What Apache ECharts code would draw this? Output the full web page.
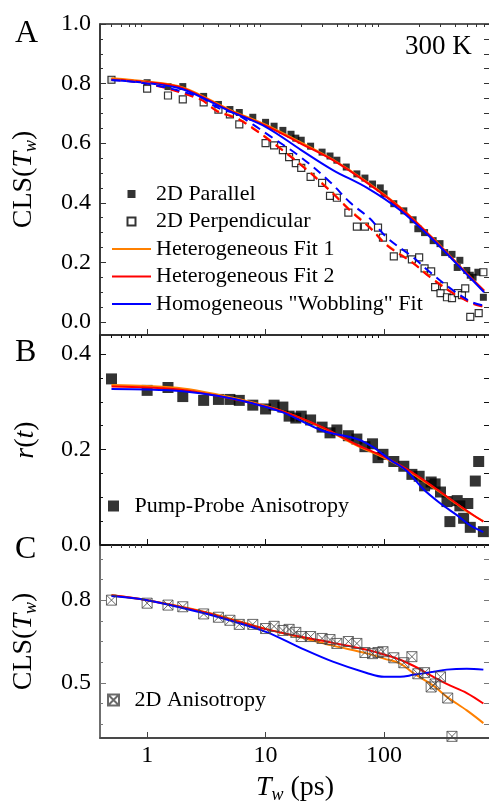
<!DOCTYPE html>
<html>
<head>
<meta charset="utf-8">
<script src="https://cdn.jsdelivr.net/npm/echarts@6/dist/echarts.min.js"></script>
<style>
  html, body { margin: 0; padding: 0; background: #fff; }
  #main { width: 489px; height: 801px; }
</style>
</head>
<body>
<div id="main"></div>
<script>
// ---- data (Tw in ps, value) ----
var parallelA = [[0.5,0.813],[1,0.803],[1.5,0.79],[2,0.79],[3,0.757],[4,0.73],[5,0.713],[6,0.703],[7.8,0.687],[10,0.67],[11.8,0.657],[14,0.643],[16.4,0.63],[18,0.617],[20,0.61],[24,0.59],[30,0.57],[35,0.557],[40,0.543],[48,0.52],[59,0.497],[69,0.483],[80,0.463],[93,0.45],[100,0.43],[121,0.397],[147,0.373],[176,0.343],[193,0.313],[220,0.30],[260,0.273],[297,0.263],[325,0.233],[375,0.227],[415,0.183],[437,0.207],[500,0.173],[535,0.157],[565,0.15],[620,0.167],[690,0.083]];
var perpendicularA = [[0.5,0.813],[1,0.783],[1.5,0.76],[2,0.747],[3,0.737],[4,0.713],[5,0.697],[6,0.663],[10,0.60],[11.8,0.593],[14,0.577],[15.8,0.553],[18,0.533],[20,0.517],[24,0.487],[30,0.467],[35,0.423],[40,0.417],[50,0.367],[59,0.32],[69,0.32],[89,0.317],[98,0.283],[121,0.22],[147,0.23],[172,0.21],[198,0.217],[220,0.18],[250,0.17],[270,0.117],[300,0.097],[320,0.12],[340,0.083],[375,0.08],[420,0.097],[455,0.09],[485,0.113],[535,0.017],[630,0.03],[690,0.167]];
var fitTw = [0.5,1,2,5,10,20,37,72,137,260,500,700];
var het1ParA = [0.818,0.807,0.787,0.712,0.662,0.602,0.545,0.47,0.385,0.28,0.163,0.105];
var het2ParA = [0.815,0.805,0.785,0.709,0.659,0.598,0.543,0.467,0.383,0.279,0.162,0.105];
var homParA = [0.812,0.802,0.781,0.707,0.655,0.577,0.51,0.45,0.375,0.275,0.16,0.10];
var perpTw = [0.5,1,2.8,3.9,5.7,7.8,11,20,35,52,76,106,176,245,380,550,700];
var het1PerpA = [0.815,0.802,0.749,0.709,0.685,0.652,0.609,0.528,0.442,0.375,0.318,0.259,0.199,0.152,0.099,0.065,0.052];
var het2PerpA = [0.813,0.8,0.747,0.707,0.683,0.65,0.607,0.526,0.44,0.373,0.316,0.257,0.197,0.15,0.097,0.063,0.05];
var homPerpA = [0.812,0.8,0.755,0.72,0.697,0.663,0.623,0.552,0.47,0.40,0.347,0.283,0.217,0.167,0.107,0.067,0.055];

var pumpProbeB = [[0.5,0.348],[1,0.324],[1.5,0.33],[2,0.311],[3,0.303],[4,0.305],[5,0.305],[6,0.303],[7.8,0.293],[10,0.285],[11.8,0.293],[14,0.289],[15.8,0.27],[18,0.266],[20,0.27],[24,0.262],[30,0.247],[35,0.235],[40,0.241],[50,0.229],[59,0.222],[69,0.206],[80,0.212],[89,0.183],[98,0.19],[121,0.175],[147,0.165],[172,0.148],[198,0.144],[220,0.124],[250,0.132],[270,0.128],[300,0.111],[340,0.091],[360,0.049],[415,0.093],[437,0.082],[470,0.056],[510,0.087],[535,0.037],[590,0.134],[630,0.175],[690,0.028]];
var fitTwB = [0.5,1,2,4,7.4,14,30,59,81,112,156,213,300,415,535,690];
var het1B = [0.335,0.333,0.328,0.315,0.3,0.28,0.246,0.208,0.193,0.177,0.157,0.135,0.11,0.085,0.066,0.05];
var het2B = [0.332,0.33,0.325,0.312,0.298,0.28,0.247,0.21,0.195,0.179,0.159,0.137,0.111,0.086,0.067,0.049];
var homB = [0.327,0.326,0.322,0.312,0.298,0.278,0.24,0.222,0.205,0.179,0.155,0.118,0.087,0.062,0.041,0.027];

var anisotropyC = [[0.5,0.80],[1,0.789],[1.5,0.782],[2,0.776],[3,0.75],[4,0.738],[5,0.727],[6,0.712],[7.8,0.712],[10,0.697],[11.8,0.705],[14,0.69],[15.8,0.694],[18,0.683],[20,0.668],[24,0.668],[30,0.661],[35,0.657],[40,0.643],[50,0.65],[59,0.643],[69,0.61],[80,0.606],[89,0.61],[98,0.613],[121,0.591],[147,0.573],[172,0.595],[193,0.533],[220,0.537],[250,0.485],[270,0.496],[300,0.522],[345,0.445],[375,0.306]];
var fitTwC = [0.5,1,2.8,5.3,10.2,19.5,37,71.5,100,137,177,261,338,500,690];
var het1C = [0.818,0.80,0.762,0.73,0.695,0.665,0.635,0.607,0.588,0.57,0.535,0.49,0.45,0.40,0.354];
var het2C = [0.818,0.80,0.76,0.727,0.694,0.668,0.645,0.62,0.603,0.584,0.562,0.522,0.496,0.463,0.425];
var homC = [0.815,0.80,0.756,0.723,0.684,0.628,0.577,0.536,0.522,0.522,0.529,0.54,0.548,0.551,0.548];

// ---- tick positions ----
var xMajor = [1, 10, 100];
var xMinor = [0.5,0.6,0.7,0.8,0.9,2,3,4,5,6,7,8,9,20,30,40,50,60,70,80,90,200,300,400,500,600,700];
var yMajorA = [0, 0.2, 0.4, 0.6, 0.8, 1.0];
var yMinorA = [0.05,0.1,0.15,0.25,0.3,0.35,0.45,0.5,0.55,0.65,0.7,0.75,0.85,0.9,0.95];
var yMajorB = [0, 0.2, 0.4];
var yMinorB = [0.05,0.1,0.15,0.25,0.3,0.35];
var yMajorC = [0.5, 0.8];
var yMinorC = [0.35,0.425,0.575,0.65,0.725,0.875,0.95];

var FONT = 'Liberation Serif';
var ORANGE = '#ff8000', RED = '#ff0000', BLUE = '#0000ff';
var SQUARE = 'path://M0,0L10,0L10,10L0,10Z';
var BOXX = 'path://M0,0L10,0L10,10L0,10Z M0,0L10,10 M10,0L0,10';
var BAR = 'path://M0,0L40,0L40,2L0,2Z';

function pairs(xs, ys) {
  return xs.map(function (x, i) { return [x, ys[i]]; });
}

var chart = echarts.init(document.getElementById('main'), null, { renderer: 'canvas' });

var grids = [
  { left: 100, top: 24, width: 390, height: 311 },
  { left: 100, top: 335, width: 390, height: 210 },
  { left: 100, top: 545, width: 390, height: 193 }
].map(function (g) {
  return Object.assign({ show: true, borderColor: '#222', borderWidth: 1.5, backgroundColor: 'transparent', outerBoundsMode: 'none' }, g);
});

var nameStyle = {
  color: '#000', fontFamily: FONT, fontSize: 28,
  rich: {
    i: { fontFamily: FONT, fontSize: 28, fontStyle: 'italic', color: '#000' },
    s: { fontFamily: FONT, fontSize: 18, fontStyle: 'italic', color: '#000', padding: [14, 0, 0, 0] }
  }
};

var xAxis = [];
function addX(gi, labels, axisColor, name) {
  xAxis.push({
    type: 'log', logBase: 10, gridIndex: gi, min: 0.4, max: 785,
    axisLine: { show: true, onZero: false, lineStyle: { color: axisColor, width: 1.5 } },
    axisTick: { show: true, inside: true, length: 6, customValues: xMajor, lineStyle: { color: axisColor, width: 1 } },
    axisLabel: { show: labels, customValues: xMajor, margin: 6, color: '#000', fontFamily: FONT, fontSize: 24,
      formatter: function (v) { return String(Math.round(v)); } },
    splitLine: { show: false }, minorTick: { show: false },
    name: name || '', nameLocation: 'middle', nameGap: 34, nameTextStyle: nameStyle
  });
  xAxis.push({
    type: 'log', logBase: 10, gridIndex: gi, min: 0.4, max: 785,
    axisLine: { show: false, onZero: false },
    axisTick: { show: true, inside: true, length: 3, customValues: xMinor, lineStyle: { color: axisColor, width: 1 } },
    axisLabel: { show: false }, splitLine: { show: false }
  });
  return xAxis.length - 2;
}

var yAxis = [];
function addY(gi, min, max, majors, minors, axisColor, name) {
  yAxis.push({
    type: 'value', gridIndex: gi, min: min, max: max, position: 'left',
    axisLine: { show: true, onZero: false, lineStyle: { color: axisColor, width: 1.5 } },
    axisTick: { show: true, inside: true, length: 6, customValues: majors, lineStyle: { color: axisColor, width: 1 } },
    axisLabel: { show: true, customValues: majors, margin: 9, color: '#000', fontFamily: FONT, fontSize: 24,
      formatter: function (v) { return v.toFixed(1); } },
    splitLine: { show: false },
    name: name, nameLocation: 'middle', nameRotate: 90, nameGap: 60, nameTextStyle: nameStyle
  });
  var main = yAxis.length - 1;
  yAxis.push({
    type: 'value', gridIndex: gi, min: min, max: max, position: 'left',
    axisLine: { show: false, onZero: false },
    axisTick: { show: true, inside: true, length: 3, customValues: minors, lineStyle: { color: axisColor, width: 1 } },
    axisLabel: { show: false }, splitLine: { show: false }
  });
  yAxis.push({
    type: 'value', gridIndex: gi, min: min, max: max, position: 'right',
    axisLine: { show: false, onZero: false },
    axisTick: { show: true, inside: true, length: 6, customValues: majors.concat(minors), lineStyle: { color: axisColor, width: 1 } },
    axisLabel: { show: false }, splitLine: { show: false }
  });
  return main;
}

var xA = addX(0, false, '#333');
var xB = addX(1, false, '#111');
var xC = addX(2, true, '#444', '{i|T}{s|w} (ps)');
var yA = addY(0, -0.0436, 1.0, yMajorA, yMinorA, '#333', 'CLS({i|T}{s|w})');
var yB = addY(1, 0, 0.44, yMajorB, yMinorB, '#111', '{i|r}({i|t})');
var yC = addY(2, 0.3, 1.0, yMajorC, yMinorC, '#777', 'CLS({i|T}{s|w})');

function line(name, data, color, xi, yi, dashed) {
  return {
    name: name, type: 'line', xAxisIndex: xi, yAxisIndex: yi, data: data,
    symbol: 'none', smooth: 0.35, silent: true,
    lineStyle: { color: color, width: 2, type: dashed ? [9, 6] : 'solid' },
    itemStyle: { color: color }, z: 3
  };
}

var series = [
  { name: '2D Parallel', type: 'scatter', xAxisIndex: xA, yAxisIndex: yA, data: parallelA,
    symbol: 'rect', symbolSize: 7, itemStyle: { color: '#000' }, z: 2 },
  { name: '2D Perpendicular', type: 'scatter', xAxisIndex: xA, yAxisIndex: yA, data: perpendicularA,
    symbol: 'rect', symbolSize: 7, itemStyle: { color: '#fff', borderColor: '#000', borderWidth: 1.2 }, z: 2 },
  line('Heterogeneous Fit 1', pairs(fitTw, het1ParA), ORANGE, xA, yA, false),
  line('Heterogeneous Fit 2', pairs(fitTw, het2ParA), RED, xA, yA, false),
  line('Homogeneous "Wobbling" Fit', pairs(fitTw, homParA), BLUE, xA, yA, false),
  line('Het 1 perp', pairs(perpTw, het1PerpA), ORANGE, xA, yA, true),
  line('Het 2 perp', pairs(perpTw, het2PerpA), RED, xA, yA, true),
  line('Hom perp', pairs(perpTw, homPerpA), BLUE, xA, yA, true),

  { name: 'Pump-Probe Anisotropy', type: 'scatter', xAxisIndex: xB, yAxisIndex: yB, data: pumpProbeB,
    symbol: 'rect', symbolSize: 11, itemStyle: { color: '#000' }, z: 2 },
  line('Het 1 B', pairs(fitTwB, het1B), ORANGE, xB, yB, false),
  line('Het 2 B', pairs(fitTwB, het2B), RED, xB, yB, false),
  line('Hom B', pairs(fitTwB, homB), BLUE, xB, yB, false),

  line('Het 1 C', pairs(fitTwC, het1C), ORANGE, xC, yC, false),
  line('Het 2 C', pairs(fitTwC, het2C), RED, xC, yC, false),
  line('Hom C', pairs(fitTwC, homC), BLUE, xC, yC, false),
  { name: '2D Anisotropy', type: 'scatter', xAxisIndex: xC, yAxisIndex: yC, data: anisotropyC,
    symbol: BOXX, symbolSize: 10,
    itemStyle: { color: 'rgba(255,255,255,0)', borderColor: '#444', borderWidth: 1 }, z: 4 }
];

var legendText = { fontFamily: FONT, fontSize: 22, color: '#000', lineHeight: 22 };

var option = {
  animation: false,
  backgroundColor: '#fff',
  grid: grids,
  xAxis: xAxis,
  yAxis: yAxis,
  legend: [
    { orient: 'vertical', left: 112, top: 183, itemWidth: 39, itemHeight: 8, itemGap: 5.5,
      selectedMode: false, textStyle: legendText, padding: 0, symbolKeepAspect: true,
      data: [
        { name: '2D Parallel', icon: SQUARE },
        { name: '2D Perpendicular', icon: SQUARE },
        { name: 'Heterogeneous Fit 1', icon: BAR },
        { name: 'Heterogeneous Fit 2', icon: BAR },
        { name: 'Homogeneous "Wobbling" Fit', icon: BAR }
      ] },
    { orient: 'vertical', left: 108, top: 495, itemWidth: 32, itemHeight: 11, selectedMode: false,
      textStyle: { fontFamily: FONT, fontSize: 22, color: '#000', lineHeight: 22 }, padding: 0, symbolKeepAspect: true,
      data: [{ name: 'Pump-Probe Anisotropy', icon: SQUARE }] },
    { orient: 'vertical', left: 107, top: 689, itemWidth: 32, itemHeight: 11, selectedMode: false,
      textStyle: { fontFamily: FONT, fontSize: 22, color: '#000', lineHeight: 22 }, padding: 0, symbolKeepAspect: true,
      data: [{ name: '2D Anisotropy', icon: BOXX }] }
  ],
  graphic: [
    { type: 'text', left: 15, top: 18, style: { text: 'A', fontFamily: FONT, fontSize: 32, fill: '#000' } },
    { type: 'text', left: 15, top: 337, style: { text: 'B', fontFamily: FONT, fontSize: 32, fill: '#000' } },
    { type: 'text', left: 15, top: 534, style: { text: 'C', fontFamily: FONT, fontSize: 32, fill: '#000' } },
    { type: 'text', left: 405, top: 33, style: { text: '300 K', fontFamily: FONT, fontSize: 27, fill: '#000' } }
  ],
  series: series
};

chart.setOption(option);
</script>
</body>
</html>
